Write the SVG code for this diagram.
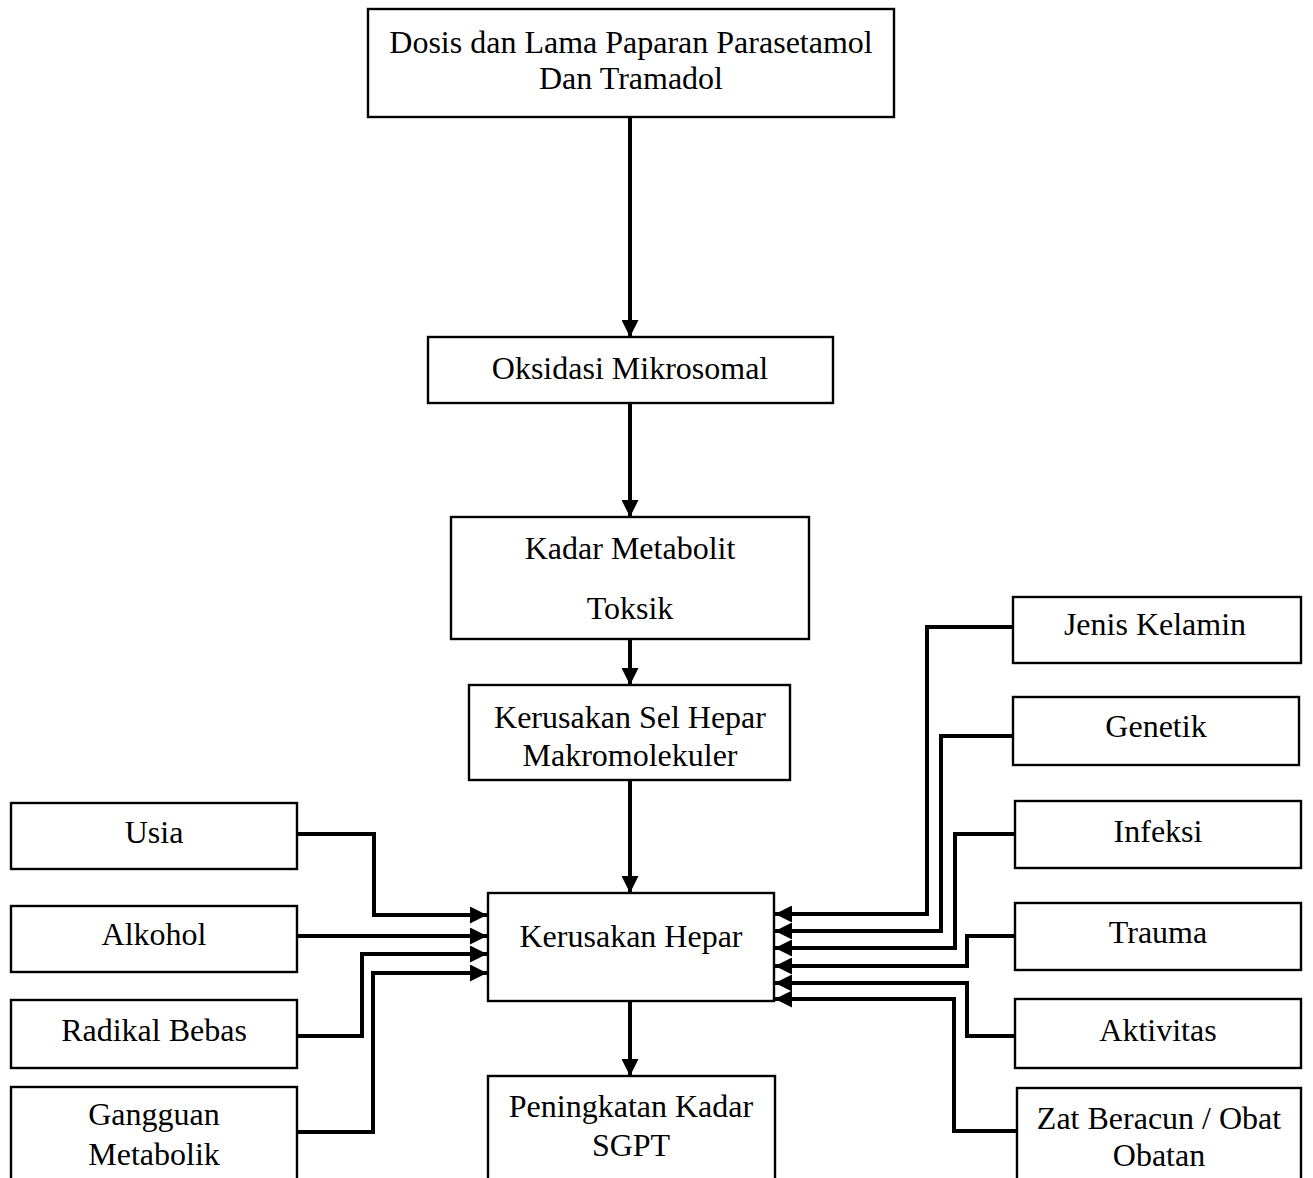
<svg xmlns="http://www.w3.org/2000/svg" width="1313" height="1178" viewBox="0 0 1313 1178">
<defs>
<marker id="ah" markerUnits="userSpaceOnUse" markerWidth="18" markerHeight="17" refX="17" refY="8.5" orient="auto">
<path d="M0,0 L17,8.5 L0,17 Z" fill="#000"/>
</marker>
<style>
.box{fill:#fff;stroke:#000;stroke-width:2.4}
.t{font-family:"Liberation Serif","Times New Roman",serif;font-size:32px;text-anchor:middle;fill:#000}
.c{fill:none;stroke:#000;stroke-width:4;marker-end:url(#ah)}
</style>
</defs>
<rect width="1313" height="1178" fill="#fff"/>
<g id="connectors">
<path class="c" d="M630,117 V337"/>
<path class="c" d="M630,403 V517"/>
<path class="c" d="M630,639 V685"/>
<path class="c" d="M630,780 V893"/>
<path class="c" d="M630,1001 V1076"/>
<path class="c" d="M297,834 H374 V915 H487"/>
<path class="c" d="M297,936 H487"/>
<path class="c" d="M297,1036 H362 V954 H487"/>
<path class="c" d="M297,1132 H373 V973 H487"/>
<path class="c" d="M1013,627 H927 V914 H775"/>
<path class="c" d="M1013,736 H941 V931 H775"/>
<path class="c" d="M1015,834 H955 V948 H775"/>
<path class="c" d="M1015,936 H967 V966 H775"/>
<path class="c" d="M1015,1036 H967 V983 H775"/>
<path class="c" d="M1017,1131 H954 V999 H775"/>
</g>
<g id="n-dosis"><rect class="box" x="368" y="9" width="526" height="108"/><text class="t" x="631" y="53">Dosis dan Lama Paparan Parasetamol</text><text class="t" x="631" y="89">Dan Tramadol</text></g>
<g id="n-oksidasi"><rect class="box" x="428" y="337" width="405" height="66"/><text class="t" x="630" y="379">Oksidasi Mikrosomal</text></g>
<g id="n-kadar"><rect class="box" x="451" y="517" width="358" height="122"/><text class="t" x="630" y="559">Kadar Metabolit</text><text class="t" x="630" y="619">Toksik</text></g>
<g id="n-sel"><rect class="box" x="469" y="685" width="321" height="95"/><text class="t" x="630" y="728">Kerusakan Sel Hepar</text><text class="t" x="630" y="766">Makromolekuler</text></g>
<g id="n-hepar"><rect class="box" x="488" y="893" width="286" height="108"/><text class="t" x="631" y="947">Kerusakan Hepar</text></g>
<g id="n-sgpt"><rect class="box" x="488" y="1076" width="287" height="110"/><text class="t" x="631" y="1117">Peningkatan Kadar</text><text class="t" x="631" y="1156">SGPT</text></g>
<g id="n-usia"><rect class="box" x="11" y="803" width="286" height="66"/><text class="t" x="154" y="843">Usia</text></g>
<g id="n-alkohol"><rect class="box" x="11" y="906" width="286" height="66"/><text class="t" x="154" y="945">Alkohol</text></g>
<g id="n-radikal"><rect class="box" x="11" y="1000" width="286" height="68"/><text class="t" x="154" y="1041">Radikal Bebas</text></g>
<g id="n-gangguan"><rect class="box" x="11" y="1087" width="286" height="100"/><text class="t" x="154" y="1125">Gangguan</text><text class="t" x="154" y="1165">Metabolik</text></g>
<g id="n-jenis"><rect class="box" x="1013" y="597" width="288" height="66"/><text class="t" x="1155" y="635">Jenis Kelamin</text></g>
<g id="n-genetik"><rect class="box" x="1013" y="697" width="286" height="68"/><text class="t" x="1156" y="737">Genetik</text></g>
<g id="n-infeksi"><rect class="box" x="1015" y="801" width="286" height="67"/><text class="t" x="1158" y="842">Infeksi</text></g>
<g id="n-trauma"><rect class="box" x="1015" y="903" width="286" height="67"/><text class="t" x="1158" y="943">Trauma</text></g>
<g id="n-aktivitas"><rect class="box" x="1015" y="999" width="286" height="69"/><text class="t" x="1158" y="1041">Aktivitas</text></g>
<g id="n-zat"><rect class="box" x="1017" y="1088" width="284" height="100"/><text class="t" x="1159" y="1129">Zat Beracun / Obat</text><text class="t" x="1159" y="1166">Obatan</text></g>
</svg>
